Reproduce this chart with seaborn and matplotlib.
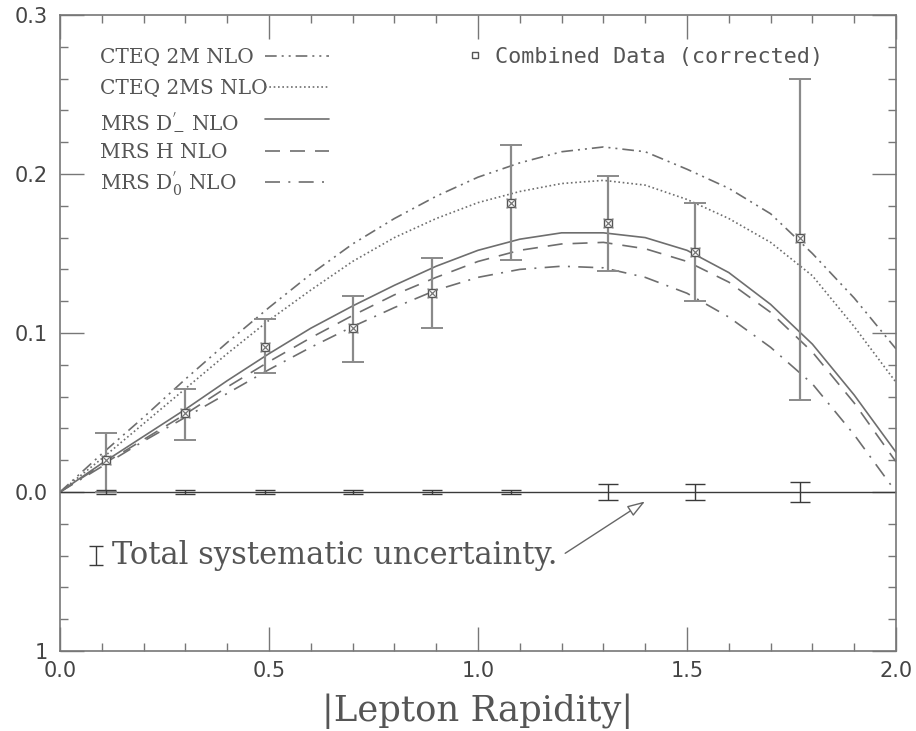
import numpy as np
import pandas as pd
import matplotlib
matplotlib.use("Agg")
import matplotlib.pyplot as plt
from matplotlib.lines import Line2D
from matplotlib.ticker import MultipleLocator
import seaborn as sns

# ---------------- data ----------------
x_grid = [0.0, 0.1, 0.2, 0.3, 0.4, 0.5, 0.6, 0.7, 0.8, 0.9, 1.0,
          1.1, 1.2, 1.3, 1.4, 1.5, 1.6, 1.7, 1.8, 1.9, 2.0]
cteq_2m = [0.0, 0.024, 0.047, 0.071, 0.094, 0.116, 0.137, 0.156, 0.172, 0.186, 0.198,
           0.207, 0.214, 0.217, 0.214, 0.203, 0.191, 0.175, 0.150, 0.122, 0.090]
cteq_2ms = [0.0, 0.021, 0.043, 0.065, 0.087, 0.108, 0.127, 0.145, 0.160, 0.172, 0.182,
            0.189, 0.194, 0.196, 0.193, 0.184, 0.172, 0.157, 0.136, 0.104, 0.069]
mrs_dm = [0.0, 0.018, 0.035, 0.052, 0.070, 0.087, 0.103, 0.117, 0.130, 0.142, 0.152,
          0.159, 0.163, 0.163, 0.160, 0.152, 0.138, 0.118, 0.093, 0.061, 0.025]
mrs_h = [0.0, 0.017, 0.033, 0.049, 0.066, 0.082, 0.097, 0.111, 0.124, 0.135, 0.145,
         0.152, 0.156, 0.157, 0.153, 0.145, 0.132, 0.113, 0.088, 0.056, 0.019]
mrs_d0 = [0.0, 0.016, 0.032, 0.047, 0.062, 0.077, 0.091, 0.104, 0.116, 0.127, 0.135,
          0.140, 0.142, 0.141, 0.135, 0.125, 0.110, 0.091, 0.068, 0.036, 0.000]

data_x = [0.11, 0.30, 0.49, 0.70, 0.89, 1.08, 1.31, 1.52, 1.77]
data_y = [0.020, 0.050, 0.091, 0.103, 0.125, 0.182, 0.169, 0.151, 0.160]
data_lo = [0.000, 0.033, 0.075, 0.082, 0.103, 0.146, 0.139, 0.120, 0.058]
data_hi = [0.037, 0.065, 0.109, 0.123, 0.147, 0.218, 0.199, 0.182, 0.260]
sys_err = [0.001, 0.001, 0.001, 0.001, 0.001, 0.001, 0.005, 0.005, 0.006]

labels = ["CTEQ 2M NLO", "CTEQ 2MS NLO", r"MRS D$^{'}_{-}$ NLO",
          "MRS H NLO", r"MRS D$^{'}_{0}$ NLO"]
ytick_vals = [-0.1, 0.0, 0.1, 0.2, 0.3]
ytick_labels = ["1", "0.0", "0.1", "0.2", "0.3"]
xtick_vals = [0.0, 0.5, 1.0, 1.5, 2.0]
xtick_labels = ["0.0", "0.5", "1.0", "1.5", "2.0"]

# ---------------- style ----------------
sns.set_theme(style="white")
plt.rcParams["font.family"] = ["DejaVu Sans"]
plt.rcParams["mathtext.fontset"] = "dejavuserif"
gray = "#6e6e6e"
dark = "#3a3a3a"
txt = "#555555"

fig = plt.figure(figsize=(9.16, 7.31), dpi=100)
ax = fig.add_axes([60 / 916, 1 - 651 / 731, 836 / 916, 636 / 731])

series = [cteq_2m, cteq_2ms, mrs_dm, mrs_h, mrs_d0]
dash_styles = [(7, 3, 1.2, 3, 1.2, 3), (1, 1.6), None, (9, 6), (9, 5, 1.2, 5)]
handles = []
for vals, ds in zip(series, dash_styles):
    df = pd.DataFrame({"x": x_grid, "y": vals})
    sns.lineplot(data=df, x="x", y="y", ax=ax, color=gray, lw=1.2)
    line = ax.lines[-1]
    if ds is not None:
        line.set_dashes(ds)
    h = Line2D([], [], color=gray, lw=1.2)
    if ds is not None:
        h.set_dashes(ds)
    handles.append(h)

# zero line
ax.axhline(0.0, color=dark, lw=1.0, zorder=2)

# data with statistical errors
yerr = [np.array(data_y) - np.array(data_lo), np.array(data_hi) - np.array(data_y)]
ax.errorbar(data_x, data_y, yerr=yerr, fmt="none", ecolor="#8a8a8a",
            elinewidth=1.6, capsize=8, capthick=1.4, zorder=3)
sns.scatterplot(x=data_x, y=data_y, ax=ax, marker="s", s=30,
                facecolor="white", edgecolor="#555555", linewidth=1.0, zorder=4)
sns.scatterplot(x=data_x, y=data_y, ax=ax, marker="x", s=50,
                color="#777777", linewidth=0.9, zorder=5)

# systematic uncertainty at zero
ax.errorbar(data_x, [0.0] * len(data_x), yerr=sys_err, fmt="none",
            ecolor=dark, elinewidth=1.0, capsize=7, capthick=1.0, zorder=3)

# legend: labels left-aligned, line samples in a column to the right
row_y = [0.933, 0.884, 0.834, 0.784, 0.735]
for lab, h, yy in zip(labels, handles, row_y):
    ax.text(0.0478, yy, lab, transform=ax.transAxes, ha="left", va="center",
            fontsize=14.5, family="DejaVu Serif", color=txt)
    lg = ax.legend([h], [""], loc="center left", bbox_to_anchor=(0.245, yy),
                   frameon=False, handlelength=3.2, borderpad=0,
                   borderaxespad=0, handletextpad=0, fontsize=14.5)
    ax.add_artist(lg)

dh = Line2D([], [], marker="s", mfc="white", mec="#555555", ms=5, ls="none")
leg2 = ax.legend([dh], ["Combined Data (corrected)"], loc="center left",
                 bbox_to_anchor=(0.486, 0.934), frameon=False, handlelength=0.8,
                 handletextpad=0.5, borderpad=0, borderaxespad=0,
                 prop={"family": "DejaVu Sans Mono", "size": 15.7})
for t in leg2.get_texts():
    t.set_color(txt)

# systematic annotation
ax.errorbar([0.086], [-0.040], yerr=[0.006], fmt="none", ecolor=dark,
            elinewidth=1.0, capsize=5, capthick=1.0)
ax.text(0.125, -0.040, "Total systematic uncertainty.", ha="left", va="center",
        fontsize=22, family="DejaVu Serif", color=txt)
ax.annotate("", xy=(1.405, -0.005), xytext=(1.203, -0.0395),
            arrowprops=dict(arrowstyle="-|>,head_length=0.9,head_width=0.3",
                            fc="white", ec="#666666", lw=1.0))

# axes
ax.set_xlim(0, 2.0)
ax.set_ylim(-0.1, 0.3)
ax.set_xticks(xtick_vals)
ax.set_xticklabels(xtick_labels)
ax.set_yticks(ytick_vals)
ax.set_yticklabels(ytick_labels)
ax.xaxis.set_minor_locator(MultipleLocator(0.1))
ax.yaxis.set_minor_locator(MultipleLocator(0.02))
ax.tick_params(which="both", direction="in", top=True, right=True,
               bottom=True, left=True, colors="#777777", labelcolor="#444444",
               labelsize=15)
ax.tick_params(which="major", length=17, width=1.0)
ax.tick_params(which="minor", length=5.5, width=1.0)
ax.tick_params(axis="x", pad=7)
ax.tick_params(axis="y", pad=9)
ax.set_xlabel("|Lepton Rapidity|", fontsize=25.5, family="DejaVu Serif",
              color=txt, labelpad=9)
ax.set_ylabel("")
for s in ax.spines.values():
    s.set_color("#777777")
    s.set_linewidth(1.2)
    s.set_visible(True)

fig.savefig("out.png", dpi=100)
